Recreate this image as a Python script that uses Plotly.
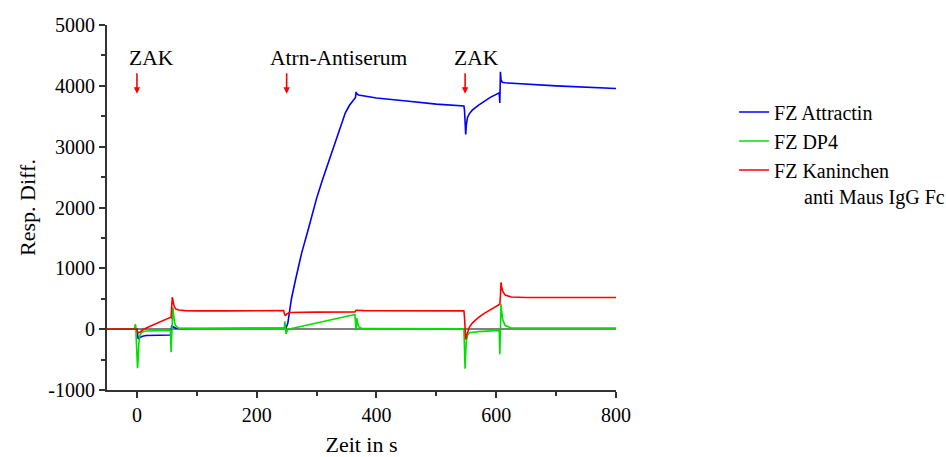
import plotly.graph_objects as go

# --- data (time in s, response difference) ---
t_attractin = [-50, -2, 0, 1, 2, 4, 8, 15, 30, 56, 57, 58, 60, 62, 65, 70, 100, 150, 200, 247, 249,
               252, 258, 265, 275, 285, 293, 300, 310, 320, 328, 335, 342, 348, 355, 362, 365, 366,
               367, 370, 380, 400, 450, 500, 546, 547, 548, 549, 550, 552, 555, 560, 570, 580, 590,
               600, 605, 606, 607, 608, 610, 615, 630, 700, 800]
v_attractin = [0, 0, 0, -80, -160, -140, -120, -105, -100, -95, -60, 60, 40, 25, 15, 12, 10, 12, 15, 20, 22,
               100, 500, 820, 1250, 1600, 1900, 2150, 2460, 2750, 3000, 3200, 3400, 3557, 3680, 3770, 3810, 3900,
               3870, 3850, 3830, 3800, 3750, 3700, 3670, 3600, 3400, 3200, 3350, 3480, 3540, 3600, 3680, 3750, 3810,
               3860, 3885, 3720, 4230, 4100, 4060, 4050, 4040, 4000, 3955]

t_dp4 = [-50, -4, -3, -2, -1, 0, 1, 2, 3, 5, 8, 15, 30, 56, 57, 58, 59, 60, 61, 63, 66, 70, 100, 200,
         246, 247, 248, 249, 251, 253, 300, 364, 365, 366, 367, 368, 370, 375, 400, 546, 547, 548, 549,
         550, 552, 555, 570, 600, 605, 606, 607, 608, 609, 611, 615, 625, 700, 800]
v_dp4 = [0, 0, 80, 60, -200, -400, -640, -500, -250, -100, -50, -30, -25, -20, -380, -100, 200, 360, 250, 100, 40, 15, 5, 5,
         5, 130, 40, -80, -20, 0, 100, 240, 100, -20, 180, 100, 40, 15, 10, 5, -200, -650, -400,
         -200, -100, -60, -40, -20, -20, -410, 0, 410, 300, 150, 60, 20, 20, 20]

t_kaninchen = [-50, -1, 0, 2, 5, 10, 20, 30, 40, 50, 56, 57, 58, 59, 60, 62, 65, 70, 80, 100, 150, 200,
               245, 246, 248, 250, 255, 300, 364, 365, 366, 380, 450, 546, 547, 548, 549, 550, 552, 555,
               560, 570, 580, 590, 600, 605, 606, 607, 608, 609, 611, 615, 625, 650, 700, 800]
v_kaninchen = [0, 0, -20, -60, -50, -10, 40, 85, 130, 170, 195, 190, 300, 525, 480, 380, 330, 315, 305, 300, 300, 305,
               305, 260, 220, 250, 275, 280, 285, 300, 310, 305, 300, 300, 200, -20, -170, -120, -50, 30,
               100, 190, 260, 320, 370, 400, 410, 550, 770, 700, 620, 560, 530, 520, 520, 520]

series_names = ["FZ Attractin", "FZ DP4", "FZ Kaninchen<br>\u00a0\u00a0\u00a0\u00a0\u00a0\u00a0anti Maus IgG Fc"]
series_colors = ["#0000ff", "#00e000", "#ff0000"]

x_tickvals = [0, 200, 400, 600, 800]
y_tickvals = [-1000, 0, 1000, 2000, 3000, 4000, 5000]
y_ticktext = ["-1000", "0", "1000", "2000", "3000", "4000", "5000"]

event_times = [0, 250, 548]
event_labels = ["ZAK", "Atrn-Antiserum", "ZAK"]
event_label_x = [25, 337, 567]

FONT = "Liberation Serif, Times New Roman, serif"

fig = go.Figure()
for t, v, name, col in zip([t_attractin, t_dp4, t_kaninchen],
                           [v_attractin, v_dp4, v_kaninchen],
                           series_names, series_colors):
    fig.add_trace(go.Scatter(x=t, y=v, mode="lines", name=name,
                             line=dict(color=col, width=1.6)))

for tx, lab, lx in zip(event_times, event_labels, event_label_x):
    fig.add_annotation(x=lx, y=4460, text=lab, showarrow=False,
                       font=dict(family=FONT, size=21.5, color="black"))
    fig.add_annotation(x=tx, y=3870, ax=0, ay=-22, text="", showarrow=True,
                       arrowhead=2, arrowsize=0.8, arrowwidth=1.6, arrowcolor="#ff0000")

axis_common = dict(showline=True, linecolor="#333333", linewidth=2, ticks="outside",
                   ticklen=6, tickwidth=2, tickcolor="#333333", showgrid=False,
                   tickfont=dict(family=FONT, size=20, color="black"), mirror=False,
                   automargin=False)

fig.update_xaxes(range=[-50, 800], tickvals=x_tickvals,
                 minor=dict(ticks="outside", tickvals=[100, 300, 500, 700], ticklen=4,
                            tickwidth=2, tickcolor="#333333"),
                 zeroline=False,
                 title=dict(text="Zeit in s", font=dict(family=FONT, size=22, color="black"), standoff=12),
                 **axis_common)
fig.update_yaxes(range=[-1000, 5000], tickvals=y_tickvals, ticktext=y_ticktext,
                 minor=dict(ticks="outside", dtick=500, ticklen=4, tickwidth=2, tickcolor="#333333"),
                 zeroline=True, zerolinecolor="#808080", zerolinewidth=2,
                 title=dict(text="Resp. Diff.", font=dict(family=FONT, size=22, color="black"), standoff=7),
                 **axis_common)

fig.update_layout(
    width=946, height=457,
    margin=dict(l=107, r=330, t=25, b=67, autoexpand=False),
    plot_bgcolor="white", paper_bgcolor="white",
    font=dict(family=FONT, size=17, color="black"),
    legend=dict(x=1.232, y=0.815, xanchor="left", yanchor="top",
                font=dict(family=FONT, size=20, color="black"),
                tracegroupgap=0, itemwidth=30, valign="top",
                bgcolor="rgba(0,0,0,0)"),
    showlegend=True,
)

fig.write_html("out.html", config={"displayModeBar": False},
               post_script="document.body.style.margin='0';")
